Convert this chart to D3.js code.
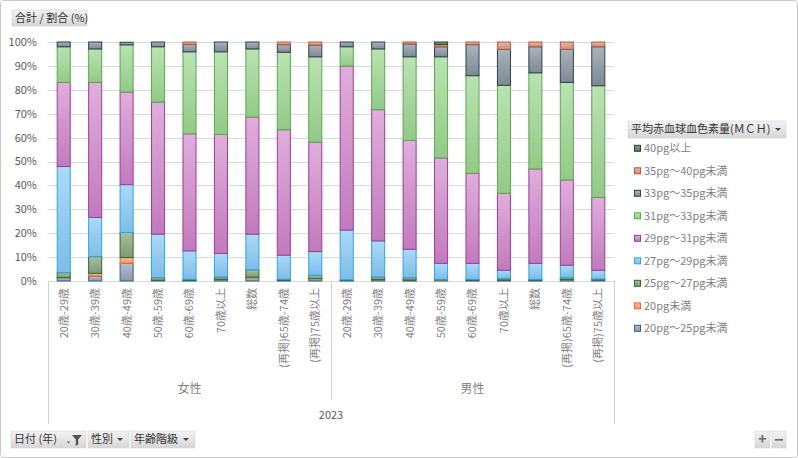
<!DOCTYPE html>
<html>
<head>
<meta charset="utf-8">
<script src="https://cdn.jsdelivr.net/npm/d3@7"></script>
<style>
  body { margin: 0; background: #fff; }
  svg { display: block; font-family: "Noto Sans CJK JP", "Noto Sans", sans-serif; }
</style>
</head>
<body>
<div id="chart"></div>
<script>
// categories
var genders = ["女性", "男性"];
var ages = ["20歳-29歳", "30歳-39歳", "40歳-49歳", "50歳-59歳", "60歳-69歳", "70歳以上", "総数", "(再掲)65歳-74歳", "(再掲)75歳以上"];
var year = "2023";

// series, bottom of stack first
var seriesNames = ["20pg～25pg未満", "20pg未満", "25pg～27pg未満", "27pg～29pg未満", "29pg～31pg未満", "31pg～33pg未満", "33pg～35pg未満", "35pg～40pg未満", "40pg以上"];

// percent values, 9 female bars then 9 male bars
var s20_25 = [1.4, 2.1, 7.4, 0.3, 0.3, 0.7, 1.4, 0.4, 1.0, 0.2, 0.6, 0.4, 0.3, 0.4, 0.4, 0.4, 0.6, 0.5];
var sLt20  = [0, 1.1, 2.4, 0, 0, 0, 0.2, 0, 0, 0, 0, 0, 0.2, 0, 0, 0, 0, 0];
var s25_27 = [2.1, 7.0, 10.5, 1.1, 0.4, 1.0, 3.1, 0.3, 1.4, 0.3, 1.1, 1.0, 0.2, 0.3, 0.7, 0.3, 0.8, 0.3];
var s27_29 = [44.4, 16.4, 20.0, 18.2, 11.9, 9.8, 14.9, 10.1, 9.9, 20.8, 15.1, 11.9, 6.7, 6.7, 3.4, 6.7, 5.2, 3.7];
var s29_31 = [35.2, 56.5, 38.8, 55.3, 49.0, 49.8, 49.0, 52.5, 45.8, 68.6, 54.9, 45.5, 44.1, 37.7, 32.2, 39.5, 35.7, 30.5];
var s31_33 = [14.9, 14.0, 19.7, 23.1, 34.3, 34.6, 28.5, 32.4, 35.7, 8.1, 25.4, 35.0, 42.3, 40.8, 45.2, 40.2, 40.8, 46.7];
var s33_35 = [2.0, 2.9, 1.1, 2.0, 3.1, 4.1, 2.9, 3.2, 4.9, 2.0, 2.9, 5.4, 4.2, 13.0, 15.0, 10.9, 13.8, 16.3];
var s35_40 = [0, 0, 0, 0, 1.0, 0, 0, 1.1, 1.3, 0, 0, 0.8, 0.9, 1.1, 3.1, 2.0, 3.1, 2.0];
var s40    = [0, 0, 0, 0, 0, 0, 0, 0, 0, 0, 0, 0, 1.1, 0, 0, 0, 0, 0];
var seriesValues = [s20_25, sLt20, s25_27, s27_29, s29_31, s31_33, s33_35, s35_40, s40];

var yTicks = [0, 10, 20, 30, 40, 50, 60, 70, 80, 90, 100];

// fill top, fill bottom, outline
var colors = [
  ["#b3c1ce", "#8799ab", "#3e5f78"],
  ["#fcbc9f", "#f2926a", "#e0703c"],
  ["#aabf9f", "#7c9a74", "#2f6b2f"],
  ["#acd9f6", "#7cbdea", "#2ea6df"],
  ["#e0aedc", "#c27abc", "#9a3e98"],
  ["#bbe2b3", "#92ca86", "#5aa94d"],
  ["#abb3bb", "#7e8994", "#2a4055"],
  ["#e6b5a8", "#cf8c7a", "#b55a3c"],
  ["#819b7e", "#5c795a", "#28452a"]
];

var W = 798, H = 458;
var plot = {left: 48, right: 614, top: 42, bottom: 281};

// rows for d3.stack
var rows = [];
genders.forEach(function(g, gi){
  ages.forEach(function(a, ai){
    var r = {gender: g, age: a, idx: gi * ages.length + ai};
    seriesNames.forEach(function(s, si){ r[s] = seriesValues[si][r.idx] / 100; });
    rows.push(r);
  });
});

var stacked = d3.stack().keys(seriesNames)(rows);

var x = d3.scaleBand().domain(rows.map(function(d){ return d.idx; }))
  .range([plot.left, plot.right]).paddingInner(0.585).paddingOuter(0.2925);
var y = d3.scaleLinear().domain([0, 1]).range([plot.bottom, plot.top]);

var svg = d3.select("#chart").append("svg").attr("width", W).attr("height", H);

var defs = svg.append("defs");
colors.forEach(function(c, i){
  var g = defs.append("linearGradient").attr("id", "grad" + i)
    .attr("x1", 0).attr("y1", 0).attr("x2", 0).attr("y2", 1);
  g.append("stop").attr("offset", "0%").attr("stop-color", c[0]);
  g.append("stop").attr("offset", "100%").attr("stop-color", c[1]);
});
var btn = defs.append("linearGradient").attr("id", "btn").attr("x1", 0).attr("y1", 0).attr("x2", 0).attr("y2", 1);
btn.append("stop").attr("offset", "0%").attr("stop-color", "#f3f3f3");
btn.append("stop").attr("offset", "100%").attr("stop-color", "#d6d6d6");

// frame
svg.append("rect").attr("x", 0.5).attr("y", 0.5).attr("width", W - 1).attr("height", H - 1)
  .attr("rx", 3).attr("fill", "#fff").attr("stroke", "#c8c8c8");

// field buttons
function button(x0, y0, w, h, label, arrow) {
  var g = svg.append("g");
  g.append("rect").attr("x", x0).attr("y", y0).attr("width", w).attr("height", h)
    .attr("fill", "url(#btn)").attr("stroke", "#d0d0d0").attr("stroke-width", 0.5);
  g.append("text").attr("x", x0 + 3).attr("y", y0 + h / 2).attr("dy", "0.36em")
    .attr("font-size", 11).attr("fill", "#333").text(label);
  if (arrow) {
    g.append("path").attr("d", "M" + (arrow - 3) + "," + (y0 + h / 2 - 1.5) + "h6l-3,3z").attr("fill", "#444");
  }
  return g;
}
button(12, 10, 75, 16, "合計 / 割合 (%)", null);
button(628, 121, 158, 17, "平均赤血球血色素量(ＭＣＨ)", 778);
var b1 = button(11, 431, 75, 17, "日付 (年)", null);
b1.append("path").attr("d", "M72,435h10l-3.8,4.5v5l-2.4,1.5v-6.5z").attr("fill", "#555");
b1.append("path").attr("d", "M67,441.5h3l-1.5,2z").attr("fill", "#555");
button(88, 431, 41, 17, "性別", 120);
button(131, 431, 64, 17, "年齢階級", 186);
var bp = button(755, 431, 15, 17, "", null);
bp.append("text").attr("x", 762.5).attr("y", 443.5).attr("text-anchor", "middle")
  .attr("font-size", 14).attr("font-weight", "bold").attr("fill", "#666").text("+");
var bm = button(772, 431, 14, 17, "", null);
bm.append("rect").attr("x", 775).attr("y", 439).attr("width", 8).attr("height", 1.6).attr("fill", "#666");

// grid + y labels
svg.append("g").selectAll("line").data(yTicks).enter().append("line")
  .attr("x1", plot.left).attr("x2", plot.right)
  .attr("y1", function(d){ return Math.round(y(d / 100)) + 0.5; })
  .attr("y2", function(d){ return Math.round(y(d / 100)) + 0.5; })
  .attr("stroke", "#d9d9d9");
svg.append("g").selectAll("text").data(yTicks).enter().append("text")
  .attr("x", 37).attr("y", function(d){ return y(d / 100); }).attr("dy", "0.36em")
  .attr("text-anchor", "end").attr("font-size", 11).attr("fill", "#595959")
  .text(function(d){ return d + "%"; });

// bars
var layer = svg.append("g").selectAll("g").data(stacked).enter().append("g");
layer.selectAll("rect").data(function(d){ return d.map(function(p){ return {p: p, k: d.index}; }); })
  .enter().filter(function(d){ return d.p[1] - d.p[0] > 0; }).append("rect")
  .attr("x", function(d){ return x(d.p.data.idx); })
  .attr("width", x.bandwidth())
  .attr("y", function(d){ return y(d.p[1]); })
  .attr("height", function(d){ return y(d.p[0]) - y(d.p[1]); })
  .attr("fill", function(d){ return "url(#grad" + d.k + ")"; })
  .attr("stroke", function(d){ return colors[d.k][2]; })
  .attr("stroke-width", 1);

// category axis
var ax = svg.append("g").attr("fill", "#7f7f7f").attr("font-size", 11);
ax.selectAll("text").data(rows).enter().append("text")
  .attr("transform", function(d){ return "translate(" + (x(d.idx) + x.bandwidth() / 2) + ",288) rotate(-90)"; })
  .attr("text-anchor", "end").attr("dy", "0.36em")
  .text(function(d){ return d.age; });

var step = x.step();
var gx = [plot.left, plot.left + step * ages.length, plot.right];
svg.append("g").selectAll("line").data(gx).enter().append("line")
  .attr("x1", function(d){ return Math.round(d) + 0.5; }).attr("x2", function(d){ return Math.round(d) + 0.5; })
  .attr("y1", plot.bottom).attr("y2", function(d, i){ return i === 1 ? 400 : 424; })
  .attr("stroke", "#d0d0d0");

svg.append("g").selectAll("text").data(genders).enter().append("text")
  .attr("x", function(d, i){ return plot.left + step * ages.length * (i + 0.5); })
  .attr("y", 389).attr("dy", "0.36em").attr("text-anchor", "middle")
  .attr("font-size", 12).attr("fill", "#7f7f7f").text(function(d){ return d; });
svg.append("text").attr("x", (plot.left + plot.right) / 2).attr("y", 415).attr("dy", "0.36em")
  .attr("text-anchor", "middle").attr("font-size", 11).attr("fill", "#595959").text(year);

// legend, top item is last series
var legend = svg.append("g").selectAll("g").data(seriesNames.slice().reverse()).enter().append("g")
  .attr("transform", function(d, i){ return "translate(634," + (148.3 + i * 22.5) + ")"; });
legend.append("rect").attr("x", 0.5).attr("y", -3).attr("width", 6).attr("height", 6)
  .attr("fill", function(d){ return "url(#grad" + seriesNames.indexOf(d) + ")"; })
  .attr("stroke", function(d){ return colors[seriesNames.indexOf(d)][2]; });
legend.append("text").attr("x", 10).attr("dy", "0.36em").attr("font-size", 11).attr("fill", "#7f7f7f")
  .text(function(d){ return d; });
</script>
</body>
</html>
